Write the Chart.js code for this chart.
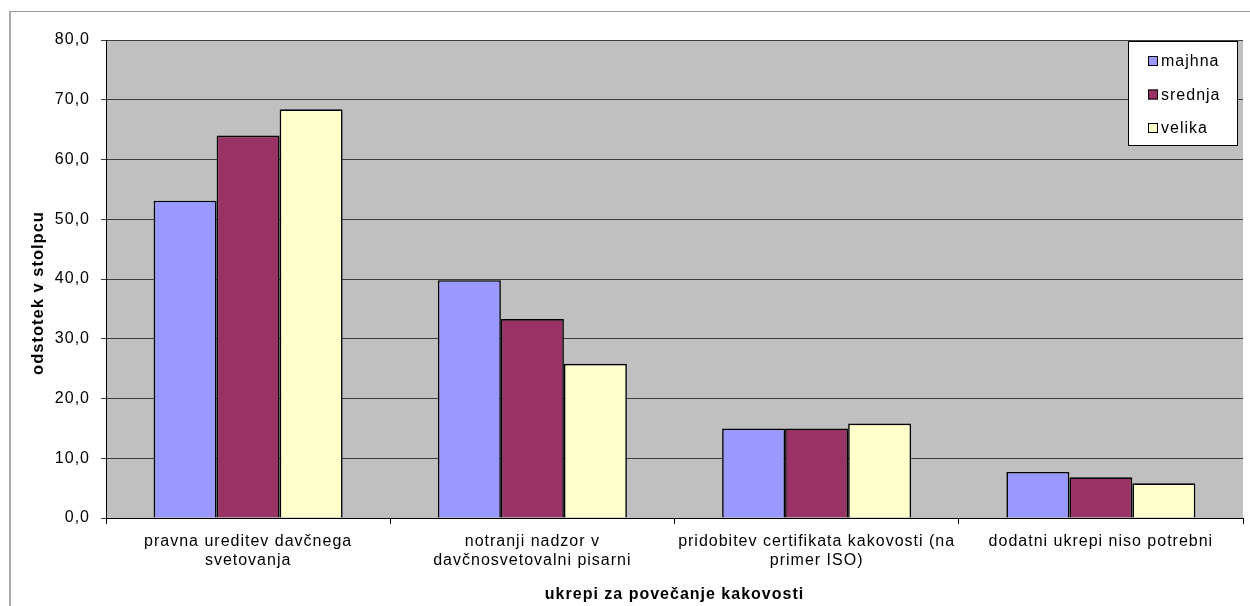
<!DOCTYPE html>
<html>
<head>
<meta charset="utf-8">
<script src="https://cdn.jsdelivr.net/npm/chart.js@4.4.1/dist/chart.umd.min.js"></script>
<style>
  html, body { margin: 0; padding: 0; background: #ffffff; }
  #wrap { position: relative; width: 1250px; height: 606px; overflow: hidden; }
  #frame { position: absolute; left: 9px; top: 11px; width: 1400px; height: 800px;
           border-left: 2px solid #a8a8a8; border-top: 1px solid #9a9a9a; }
  #chart { position: absolute; left: 0; top: 0; }
</style>
</head>
<body>
<div id="wrap">
  <div id="frame"></div>
  <canvas id="chart" width="1250" height="606"></canvas>
</div>
<script>
// Categories (measures for improving quality)
const categories = [
  ['pravna ureditev davčnega', 'svetovanja'],
  ['notranji nadzor v', 'davčnosvetovalni pisarni'],
  ['pridobitev certifikata kakovosti (na', 'primer ISO)'],
  ['dodatni ukrepi niso potrebni']
];

// Share per column (%) by firm size
const majhna  = [53.1, 39.8, 15.0, 7.7];
const srednja = [64.0, 33.3, 15.0, 6.8];
const velika  = [68.4, 25.8, 15.8, 5.8];

const seriesNames = ['majhna', 'srednja', 'velika'];
const seriesColors = ['#9999FF', '#993366', '#FFFFCC'];

// Value axis
const yMin = 0;
const yMax = 80;
const yStep = 10;

const yTitle = 'odstotek v stolpcu';
const xTitle = 'ukrepi za povečanje kakovosti';

const FONT = '"Liberation Sans", Arial, sans-serif';
const SPACING = '1px';

// Wider text spacing on the canvas context
const spacingPlugin = {
  id: 'spacing',
  beforeUpdate(chart) { chart.ctx.letterSpacing = SPACING; },
  beforeDraw(chart) { chart.ctx.letterSpacing = SPACING; }
};

// Grey plot background
const plotBg = {
  id: 'plotBg',
  beforeDraw(chart) {
    const { ctx, chartArea: a } = chart;
    ctx.save();
    ctx.fillStyle = '#C0C0C0';
    ctx.fillRect(a.left, a.top, a.right - a.left, a.bottom - a.top);
    ctx.restore();
  }
};

// Rotated value-axis title, centred a little below the plot middle
const yTitlePlugin = {
  id: 'yTitle',
  afterDraw(chart) {
    const ctx = chart.ctx;
    ctx.save();
    ctx.letterSpacing = SPACING;
    ctx.translate(38, 293);
    ctx.rotate(-Math.PI / 2);
    ctx.font = 'bold 16.5px ' + FONT;
    ctx.fillStyle = '#000000';
    ctx.textAlign = 'center';
    ctx.textBaseline = 'middle';
    ctx.fillText(yTitle, 0, 0);
    ctx.restore();
  }
};

// Boxed legend in the upper right corner of the plot
const boxLegend = {
  id: 'boxLegend',
  afterDraw(chart) {
    const ctx = chart.ctx;
    const x0 = 1128, y0 = 41, w = 109, h = 104;
    ctx.save();
    ctx.letterSpacing = SPACING;
    ctx.fillStyle = '#ffffff';
    ctx.fillRect(x0, y0, w, h);
    ctx.strokeStyle = '#000000';
    ctx.lineWidth = 1;
    ctx.strokeRect(x0 + 0.5, y0 + 0.5, w, h);
    ctx.font = '16px ' + FONT;
    ctx.textBaseline = 'middle';
    ctx.textAlign = 'left';
    chart.data.datasets.forEach((ds, i) => {
      const cy = y0 + 20 + i * 33.5;
      ctx.fillStyle = ds.backgroundColor;
      ctx.fillRect(x0 + 20, cy - 5, 10, 10);
      ctx.strokeStyle = '#000000';
      ctx.strokeRect(x0 + 20.5, cy - 4.5, 9, 9);
      ctx.fillStyle = '#000000';
      ctx.fillText(ds.label, x0 + 33, cy + 1);
    });
    ctx.restore();
  }
};

const datasets = [majhna, srednja, velika].map((vals, i) => ({
  label: seriesNames[i],
  data: vals,
  backgroundColor: seriesColors[i],
  borderColor: '#000000',
  borderWidth: 1.6,
  barPercentage: 1.0,
  categoryPercentage: 0.665
}));

new Chart(document.getElementById('chart'), {
  type: 'bar',
  data: { labels: categories, datasets },
  plugins: [spacingPlugin, plotBg, yTitlePlugin, boxLegend],
  options: {
    responsive: false,
    animation: false,
    layout: { padding: { left: 0, top: 40, right: 7, bottom: 0 } },
    plugins: { legend: { display: false }, tooltip: { enabled: false } },
    scales: {
      x: {
        offset: true,
        grid: { offset: true, drawOnChartArea: false, drawTicks: true, tickLength: 6, color: '#000000' },
        border: { color: '#000000', width: 1 },
        ticks: { color: '#000000', font: { family: FONT, size: 16 }, padding: 8, maxRotation: 0, autoSkip: false },
        title: { display: true, text: xTitle, color: '#000000', font: { family: FONT, size: 16, weight: 'bold' }, padding: { top: 0, bottom: 2 } },
        afterFit(scale) { scale.height = 606 - 518; }
      },
      y: {
        min: yMin,
        max: yMax,
        grid: { color: '#404040', lineWidth: 1, drawTicks: true, tickLength: 5 },
        border: { color: '#000000', width: 1 },
        ticks: {
          stepSize: yStep,
          color: '#000000',
          padding: 11,
          font: { family: FONT, size: 16 },
          callback: v => v.toFixed(1).replace('.', ',')
        },
        title: { display: false },
        afterFit(scale) { scale.width = 106; }
      }
    }
  }
});
</script>
</body>
</html>
